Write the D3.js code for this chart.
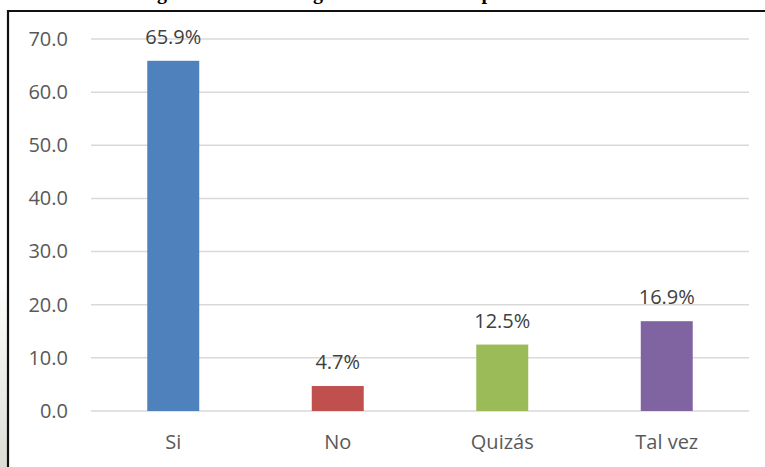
<!DOCTYPE html>
<html>
  <head>
  <script src="https://cdnjs.cloudflare.com/ajax/libs/d3/7.8.5/d3.min.js" charset="utf-8"></script>
  <style>
    body { margin: 0; background: #fff; }
    text { font-family: "Open Sans", sans-serif; }
  </style>
  </head>
  <body>
    <div id="chart"></div>
	<script type="text/javascript">

		// data
		var categories = ["Si", "No", "Quizás", "Tal vez"];
		var values = [65.9, 4.7, 12.5, 16.9];
		var barColors = ["#4f81bd", "#c0504d", "#9bbb59", "#8064a2"];
		var yTicks = [0, 10, 20, 30, 40, 50, 60, 70];
		// bits of the cut-off caption above the frame (only descenders show)
		var titleBits = [{ch: "g", x: 162}, {ch: "g", x: 318}, {ch: "p", x: 487}];

		var W = 765, H = 467;
		var plotL = 91, plotR = 749, plotT = 39, plotB = 411;

		var svg = d3.select("#chart")
			.append("svg")
			.attr("width", W)
			.attr("height", H);

		// scan shading at left edge
		var grad = svg.append("defs").append("linearGradient")
			.attr("id", "shade").attr("x1", 0).attr("y1", 0).attr("x2", 0).attr("y2", 1);
		grad.append("stop").attr("offset", "0%").attr("stop-color", "#ffffff");
		grad.append("stop").attr("offset", "100%").attr("stop-color", "#dcdcd6");
		svg.append("rect").attr("x", 0).attr("y", 280).attr("width", 7).attr("height", H - 280)
			.attr("fill", "url(#shade)");

		svg.selectAll(".tbit")
			.data(titleBits)
			.enter()
			.append("text")
			.attr("x", function(d){ return d.x; })
			.attr("y", -1)
			.attr("text-anchor", "middle")
			.style("font-family", "'Liberation Serif', serif")
			.style("font-weight", "bold")
			.style("font-size", "20px")
			.attr("fill", "#000")
			.text(function(d){ return d.ch; });

		// frame
		svg.append("path")
			.attr("d", "M8," + (H + 5) + " L8,11 L" + (W + 5) + ",11")
			.attr("fill", "none")
			.attr("stroke", "#111")
			.attr("stroke-width", 2.2);

		var x = d3.scaleBand().domain(categories).range([plotL, plotR]).padding(0);
		var y = d3.scaleLinear().domain([0, 70]).range([plotB, plotT]);
		var barW = x.bandwidth() * 0.316;

		// gridlines
		svg.selectAll(".grid")
			.data(yTicks)
			.enter()
			.append("line")
			.attr("x1", plotL)
			.attr("x2", plotR)
			.attr("y1", function(d){ return y(d); })
			.attr("y2", function(d){ return y(d); })
			.attr("stroke", "#d9d9d9")
			.attr("stroke-width", 1.5);

		// y axis
		var yAxis = d3.axisLeft(y).tickValues(yTicks).tickSize(0).tickPadding(0)
			.tickFormat(d3.format(".1f"));
		var gy = svg.append("g").attr("transform", "translate(68,0)").call(yAxis);
		gy.select(".domain").remove();
		gy.selectAll("text")
			.attr("fill", "#595959")
			.style("font-size", "20px")
			.style("font-family", "'Open Sans', sans-serif");

		// bars
		svg.selectAll(".bar")
			.data(values)
			.enter()
			.append("rect")
			.attr("x", function(d, i){ return x(categories[i]) + x.bandwidth() / 2 - barW / 2; })
			.attr("y", function(d){ return y(d); })
			.attr("width", barW)
			.attr("height", function(d){ return y(0) - y(d); })
			.attr("fill", function(d, i){ return barColors[i]; });

		// value labels
		svg.selectAll(".lbl")
			.data(values)
			.enter()
			.append("text")
			.attr("x", function(d, i){ return x(categories[i]) + x.bandwidth() / 2; })
			.attr("y", function(d){ return y(d) - 17; })
			.attr("text-anchor", "middle")
			.attr("fill", "#404040")
			.style("font-size", "20px")
			.text(function(d){ return d.toFixed(1) + "%"; });

		// x axis
		var xAxis = d3.axisBottom(x).tickSize(0).tickPadding(0);
		var gx = svg.append("g").attr("transform", "translate(0," + (plotB + 24) + ")").call(xAxis);
		gx.select(".domain").remove();
		gx.selectAll("text")
			.attr("fill", "#595959")
			.style("font-size", "20px")
			.style("font-family", "'Open Sans', sans-serif");
	</script>
  </body>
</html>
